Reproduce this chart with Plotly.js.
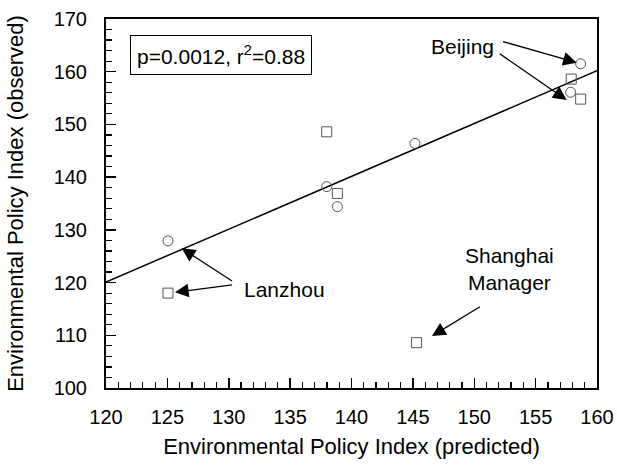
<!DOCTYPE html>
<html>
<head>
<meta charset="utf-8">
<script src="https://cdn.plot.ly/plotly-3.0.1.min.js"></script>
<style>html,body{margin:0;padding:0;background:#fff;}#chart{width:617px;height:469px;}</style>
</head>
<body>
<div id="chart"></div>
<script>
// Data
const circleX = [125.05, 137.98, 138.85, 145.17, 157.85, 158.67];
const circleY = [127.9, 138.2, 134.4, 146.4, 156.1, 161.5];
const squareX = [125.05, 137.98, 138.85, 145.3, 157.9, 158.67];
const squareY = [118.0, 148.6, 136.9, 108.6, 158.6, 154.8];
const fitX = [120, 160];
const fitY = [120.1, 160.2];
const xTicks = [120, 125, 130, 135, 140, 145, 150, 155, 160];
const yTicks = [100, 110, 120, 130, 140, 150, 160, 170];

const FONT = "Liberation Sans, Arial, sans-serif";

const traces = [
  {x: fitX, y: fitY, mode: 'lines', type: 'scatter',
   line: {color: '#000', width: 1.5}, hoverinfo: 'skip', showlegend: false},
  {x: circleX, y: circleY, mode: 'markers', type: 'scatter',
   marker: {symbol: 'circle-open', size: 10, color: '#555', line: {width: 1, color: '#555'}}, showlegend: false},
  {x: squareX, y: squareY, mode: 'markers', type: 'scatter',
   marker: {symbol: 'square-open', size: 10, color: '#555', line: {width: 1, color: '#555'}}, showlegend: false}
];

function arrow(tx, ty, hx, hy) {
  return {x: hx, y: hy, ax: tx, ay: ty, xref: 'x', yref: 'y', axref: 'x', ayref: 'y',
    text: ' ', showarrow: true, arrowhead: 2, arrowsize: 2.1, arrowwidth: 1.3,
    arrowcolor: '#000', standoff: 0, startstandoff: 0};
}
function label(x, y, t) {
  return {x: x, y: y, xref: 'x', yref: 'y', text: t, showarrow: false,
    font: {family: FONT, size: 21, color: '#000'}};
}

const layout = {
  width: 617, height: 469,
  margin: {l: 106, r: 20, t: 19, b: 81},
  paper_bgcolor: '#fff', plot_bgcolor: '#fff',
  font: {family: FONT, color: '#000'},
  xaxis: {
    range: [120, 160], tickmode: 'array', tickvals: xTicks, ticktext: xTicks.map(String),
    ticks: 'inside', ticklen: 10, tickwidth: 1.5, tickcolor: '#000',
    minor: {dtick: 1, ticks: 'inside', ticklen: 6, tickwidth: 1.2, tickcolor: '#000', showgrid: false},
    showline: true, linecolor: '#000', linewidth: 2, mirror: true,
    showgrid: false, zeroline: false,
    tickfont: {family: FONT, size: 20}, ticklabelstandoff: 10,
    title: {text: 'Environmental Policy Index (predicted)', font: {family: FONT, size: 22}, standoff: 12}
  },
  yaxis: {
    range: [100, 170], tickmode: 'array', tickvals: yTicks, ticktext: yTicks.map(String),
    ticks: 'inside', ticklen: 10, tickwidth: 1.5, tickcolor: '#000',
    minor: {dtick: 2, ticks: 'inside', ticklen: 6, tickwidth: 1.2, tickcolor: '#000', showgrid: false},
    showline: true, linecolor: '#000', linewidth: 2, mirror: true,
    showgrid: false, zeroline: false,
    tickfont: {family: FONT, size: 20}, ticklabelstandoff: 13,
    title: {text: 'Environmental Policy Index (observed)', font: {family: FONT, size: 22}, standoff: 24}
  },
  annotations: [
    arrow(152.10, 165.89, 158.35, 161.72),
    arrow(151.83, 163.80, 157.53, 154.64),
    arrow(130.51, 119.92, 126.17, 126.50),
    arrow(130.51, 119.64, 125.62, 118.16),
    arrow(150.71, 115.75, 146.56, 109.87),
    label(149.08, 164.69, 'Beijing'),
    label(134.58, 118.78, 'Lanzhou'),
    label(152.91, 122.58, 'Shanghai<br>Manager'),
    {x: 129.37, y: 163.2, xref: 'x', yref: 'y', showarrow: false,
     text: 'p=0.0012, r<sup>2</sup>=0.88',
     font: {family: FONT, size: 21, color: '#000'},
     bordercolor: '#000', borderwidth: 1, borderpad: 6, bgcolor: '#fff'}
  ]
};

Plotly.newPlot('chart', traces, layout, {displayModeBar: false, staticPlot: true});
</script>
</body>
</html>
